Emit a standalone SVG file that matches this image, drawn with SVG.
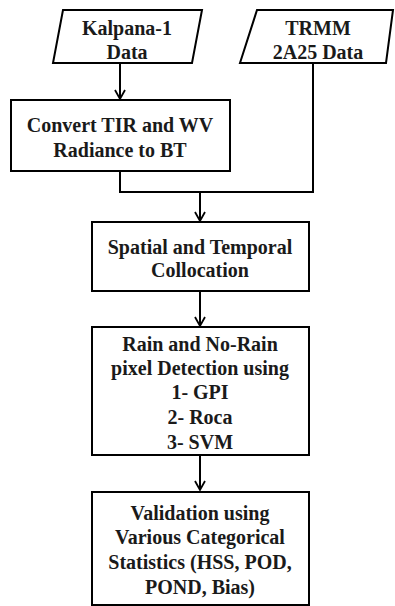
<svg xmlns="http://www.w3.org/2000/svg" width="395" height="606" viewBox="0 0 395 606">
<defs>
<style>
.shape{fill:#fff;stroke:#000;stroke-width:2}
.t{font-family:"Liberation Serif","Times New Roman",serif;font-weight:bold;font-size:20px;fill:#1a1a1a;text-anchor:middle}
.c{fill:none;stroke:#000;stroke-width:2}
</style>
<marker id="arr" viewBox="0 0 12 12" refX="10" refY="6" markerWidth="12" markerHeight="12" markerUnits="userSpaceOnUse" orient="auto">
<polyline points="1,1 10,6 1,11" fill="none" stroke="#000" stroke-width="1.8"/>
</marker>
</defs>
<rect width="395" height="606" fill="#fff"/>
<g id="connectors">
<line class="c" x1="120" y1="63" x2="120" y2="99" marker-end="url(#arr)"/>
<polyline class="c" points="120,171 120,192 313,192 313,63"/>
<line class="c" x1="200" y1="192" x2="200" y2="221" marker-end="url(#arr)"/>
<line class="c" x1="200" y1="291" x2="200" y2="326" marker-end="url(#arr)"/>
<line class="c" x1="200" y1="455" x2="200" y2="490" marker-end="url(#arr)"/>
</g>
<g id="kalpana">
<polygon class="shape" points="63,10 202,10 192,63 53,63"/>
<text class="t" x="127" y="35">Kalpana-1</text>
<text class="t" x="127" y="59">Data</text>
</g>
<g id="trmm">
<polygon class="shape" points="257,10 393,10 386,63 240,63"/>
<text class="t" x="318" y="35">TRMM</text>
<text class="t" x="318" y="59">2A25 Data</text>
</g>
<g id="convert">
<rect class="shape" x="11" y="100" width="219" height="71"/>
<text class="t" x="120" y="132">Convert TIR and WV</text>
<text class="t" x="120" y="157">Radiance to BT</text>
</g>
<g id="collocation">
<rect class="shape" x="92" y="222" width="217" height="69"/>
<text class="t" x="200" y="254">Spatial and Temporal</text>
<text class="t" x="200" y="277">Collocation</text>
</g>
<g id="detection">
<rect class="shape" x="92" y="327" width="217" height="128"/>
<text class="t" x="200" y="351">Rain and No-Rain</text>
<text class="t" x="200" y="375">pixel Detection using</text>
<text class="t" x="200" y="399">1- GPI</text>
<text class="t" x="200" y="424">2- Roca</text>
<text class="t" x="200" y="449">3- SVM</text>
</g>
<g id="validation">
<rect class="shape" x="92" y="492" width="217" height="113"/>
<text class="t" x="200" y="520">Validation using</text>
<text class="t" x="200" y="544">Various Categorical</text>
<text class="t" x="200" y="569">Statistics (HSS, POD,</text>
<text class="t" x="200" y="594">POND, Bias)</text>
</g>
</svg>
